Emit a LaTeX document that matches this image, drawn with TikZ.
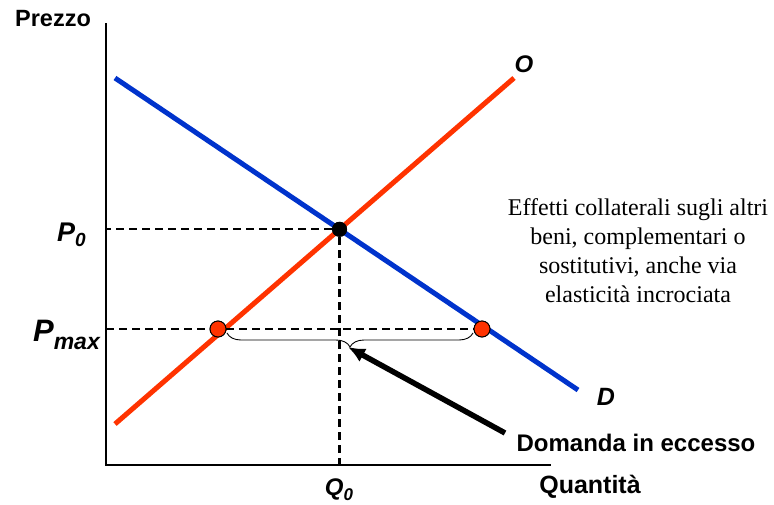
\documentclass[tikz,border=0pt]{standalone}
\usepackage{fontspec}
\usetikzlibrary{arrows.meta,decorations.pathreplacing}
\setmainfont{Liberation Serif}
\newfontfamily\lblfont{Liberation Sans}
\definecolor{dblue}{RGB}{0,51,204}
\definecolor{ored}{RGB}{255,51,0}
\newcommand{\fsz}[1]{\fontsize{#1}{#1}\selectfont}

\begin{document}
\begin{tikzpicture}[
  x=1pt, y=-1pt, >=Latex,
  axis/.style={line width=2.6pt},
  guide/.style={line width=2.2pt, dash pattern=on 8pt off 5pt},
  curveD/.style={line width=5pt, draw=dblue},
  curveO/.style={line width=5pt, draw=ored},
  dot/.style={circle, fill=ored, draw=black, line width=0.9pt, minimum size=16pt, inner sep=0pt},
  eqdot/.style={circle, fill=black, minimum size=15pt, inner sep=0pt},
  title/.style={font=\lblfont\bfseries\fsz{23.5}, inner sep=0pt},
  lbl/.style={font=\lblfont\bfseries\itshape\fsz{24}, inner sep=0pt},
  note/.style={font=\fontsize{24}{29}\selectfont, align=center, inner sep=0pt}
]
\useasboundingbox (0,0) rectangle (774,504);

% axes
\coordinate (origin) at (106,465);
\coordinate (ytop) at (106,23);
\coordinate (xend) at (551,465);
\draw[axis] (ytop) -- (origin) -- (xend);

% demand and supply
\coordinate (Dtop) at (115,78);
\coordinate (Dbot) at (578,390);
\coordinate (Obot) at (115,424);
\coordinate (Otop) at (514,78);
\draw[curveD] (Dtop) -- (Dbot);
\draw[curveO] (Obot) -- (Otop);

% equilibrium
\node[eqdot] (eq) at (intersection of Dtop--Dbot and Obot--Otop) {};
\draw[guide] (eq) -- (eq -| origin);
\draw[guide] (eq) -- (eq |- origin);
\node[eqdot] at (eq) {};

% price ceiling
\node[dot] (qs) at (218,329) {};
\node[dot] (qd) at (482,329) {};
\draw[guide] (qs -| origin) -- (qs);
\draw[guide] (qs) -- (qd);
\node[dot] at (qs) {};
\node[dot] at (qd) {};

% excess demand
\draw[line width=0.9pt, decorate, decoration={brace, mirror, amplitude=14pt}]
  (227,333) -- (473,333);
\coordinate (bracetip) at (348,347);
\coordinate (arrtail) at (505,433);
\draw[line width=5.5pt, arrows={-Latex[length=17pt,width=15pt]}] (arrtail) -- (bracetip);

% labels
\node[title] (prezzo) at (53,19) {Prezzo};
\node[title, font=\lblfont\bfseries\fsz{25}] (quant) at (590,487) {Quantità};
\node[title, font=\lblfont\bfseries\fsz{24}] (excess) at (636,443) {Domanda in eccesso};
\node[lbl] (lO) at (524,64) {O};
\node[lbl, font=\lblfont\bfseries\itshape\fsz{25}] (lD) at (606,397) {D};
\node[lbl, anchor=base east, font=\lblfont\bfseries\itshape\fsz{27}] (lP0) at (86,241) {P\raisebox{-5pt}{\fsz{19}0}};
\node[lbl, anchor=base east, font=\lblfont\bfseries\itshape\fsz{31}] (lPmax) at (100,341) {P\raisebox{-8pt}{\fsz{23}max}};
\node[lbl, anchor=base, font=\lblfont\bfseries\itshape\fsz{24}] (lQ0) at (339,495) {Q\raisebox{-5pt}{\fsz{17}0}};
\node[note] (effects) at (638,251) {Effetti collaterali sugli altri\\beni, complementari o\\sostitutivi, anche via\\elasticità incrociata};
\end{tikzpicture}
\end{document}
